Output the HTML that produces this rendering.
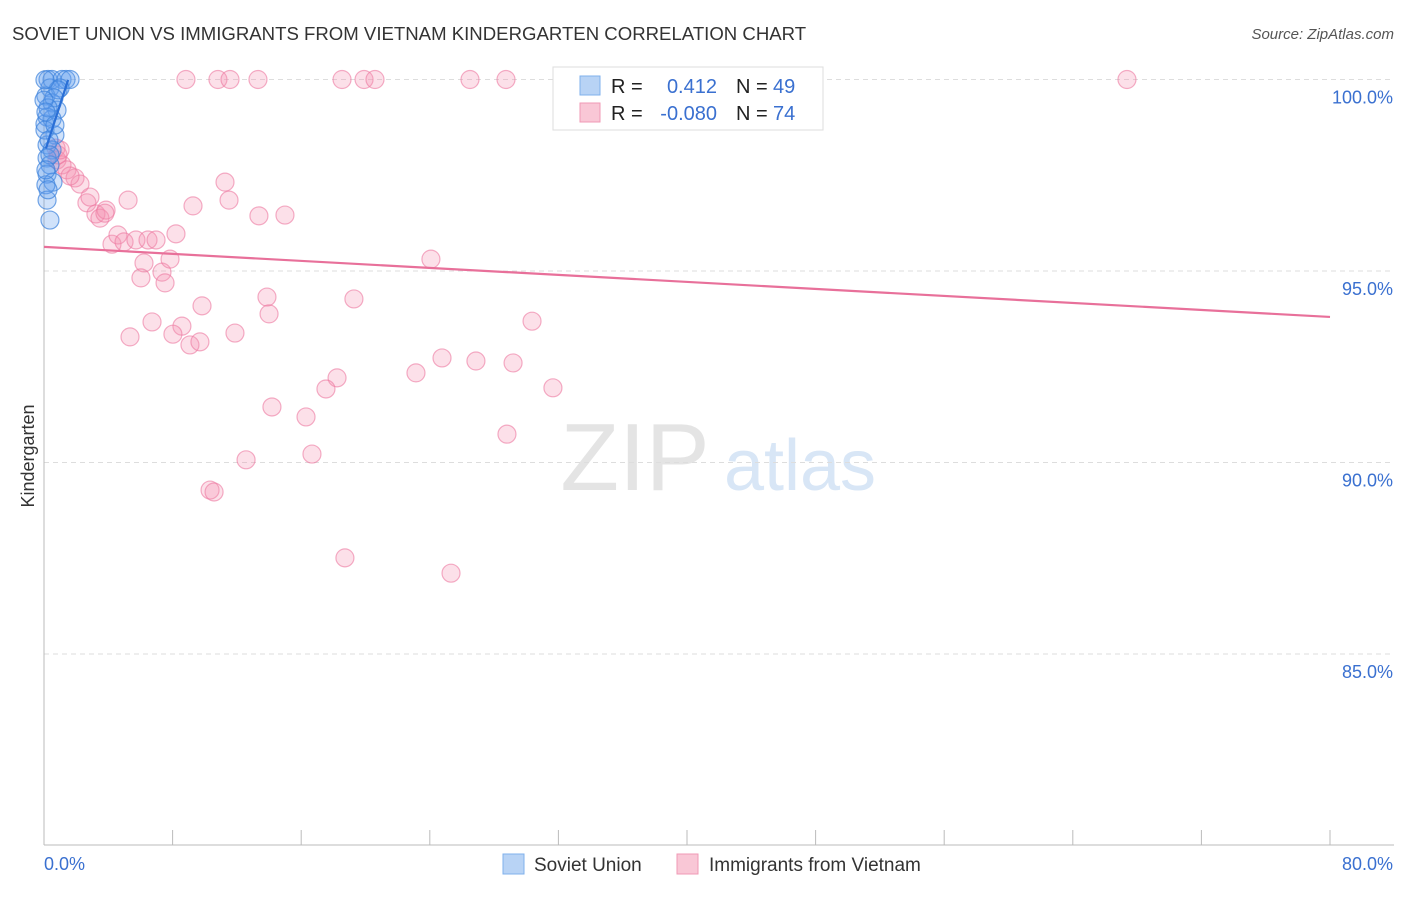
<!DOCTYPE html>
<html><head><meta charset="utf-8"><style>
body{margin:0;background:#fff;font-family:"Liberation Sans",sans-serif;}
svg text{font-family:"Liberation Sans",sans-serif;}
</style></head><body>
<svg id="chart" width="1406" height="892" xmlns="http://www.w3.org/2000/svg">
<text x="12" y="40" font-size="18.6" fill="#333">SOVIET UNION VS IMMIGRANTS FROM VIETNAM KINDERGARTEN CORRELATION CHART</text>
<text x="1394" y="39" font-size="15" fill="#555" font-style="italic" text-anchor="end">Source: ZipAtlas.com</text>
<text transform="translate(34,456) rotate(-90)" font-size="18" fill="#333" text-anchor="middle">Kindergarten</text>
<g>
<text x="635" y="490" font-size="96" fill="#e4e4e4" font-family="Liberation Serif,serif" text-anchor="middle">ZIP</text>
<text x="800" y="490" font-size="72" fill="#d8e6f6" text-anchor="middle">atlas</text>
</g>
<g id="grid"></g><g id="axes"></g><g id="marks"></g>
<g>
<rect x="553" y="67" width="270" height="63" fill="#fff" stroke="#ddd"/>
<rect x="580" y="76" width="20" height="19" fill="#b8d3f5" stroke="#7fb0ec"/>
<rect x="580" y="103" width="20" height="19" fill="#f9c7d6" stroke="#f09ab5"/>
<text x="611" y="93" font-size="20" fill="#222">R =</text>
<text x="717" y="93" font-size="20" fill="#3a70d0" text-anchor="end">0.412</text>
<text x="736" y="93" font-size="20" fill="#222">N =</text>
<text x="773" y="93" font-size="20" fill="#3a70d0">49</text>
<text x="611" y="120" font-size="20" fill="#222">R =</text>
<text x="717" y="120" font-size="20" fill="#3a70d0" text-anchor="end">-0.080</text>
<text x="736" y="120" font-size="20" fill="#222">N =</text>
<text x="773" y="120" font-size="20" fill="#3a70d0">74</text>
</g>
<g>
<rect x="503" y="854" width="21" height="20" fill="#b8d3f5" stroke="#7fb0ec"/>
<text x="534" y="871" font-size="19" fill="#333">Soviet Union</text>
<rect x="677" y="854" width="21" height="20" fill="#f9c7d6" stroke="#f09ab5"/>
<text x="709" y="871" font-size="19" fill="#333">Immigrants from Vietnam</text>
</g>
</svg>
<script>
const yTicks=[100,95,90,85];
const yTickLabels=["100.0%","95.0%","90.0%","85.0%"];
const xTicks=[0,8,16,24,32,40,48,56,64,72,80];
const xEndLabels=["0.0%","80.0%"];
const sovietX=[0.25,0.5,1.12,1.37,1.62,0.37,1.0,0.12,0.5,0.81,0.19,0.5,0.06,0.68,0.19,0.5,0.19,0.37,0.19,0.56,0.12,0.19,0.37,0.87,0.62,0.25,0.06,0.31,0.37,0.12,0.25,0,0.12,0.68,0.06];
const sovietY=[100,100,100,100,100,99.78,99.78,99.57,99.39,99.2,99.02,98.97,98.84,98.55,98.29,98.16,97.95,97.77,97.53,97.32,97.25,96.85,96.33,99.73,99.52,99.26,98.68,98.42,98.03,97.64,97.12,99.46,99.15,98.81,99.99];
const vietX=[8.83,10.82,11.57,13.31,18.54,19.91,20.59,26.5,28.74,43.3,67.37,0.75,0.81,1.12,1.43,1.93,2.24,0.87,2.67,2.86,3.23,3.48,3.86,5.23,4.23,4.6,4.98,5.72,6.47,6.97,8.21,9.27,11.26,11.51,13.37,14.99,6.22,7.34,7.53,6.03,7.84,24.07,9.83,6.72,8.58,8.02,5.35,9.08,9.7,11.88,13.87,14.0,19.28,30.36,24.76,26.87,29.18,23.14,18.23,17.54,31.66,14.18,16.3,28.8,16.67,12.57,10.33,10.58,18.72,25.32,1.0,1.62,3.79];
const vietY=[100,100,100,100,100,100,100,100,100,100,100,98.21,97.9,97.77,97.64,97.43,97.27,98.03,96.78,96.93,96.49,96.38,96.59,96.85,95.7,95.94,95.76,95.81,95.81,95.81,95.97,96.7,97.32,96.85,96.44,96.46,95.21,94.97,94.69,94.82,95.31,95.31,94.09,93.67,93.56,93.35,93.28,93.07,93.15,93.38,94.32,93.88,94.27,93.69,92.73,92.65,92.6,92.34,92.21,91.92,91.95,91.45,91.19,90.74,90.22,90.07,89.28,89.23,87.51,87.11,98.16,97.48,96.51];
const sovietTrendX=[0.12,1.5];
const sovietTrendY=[98.2,99.99];
const vietTrendX=[0,80];
const vietTrendY=[95.63,93.8];
const NS="http://www.w3.org/2000/svg";
const xs=v=>44+v/80*1286;
const ys=v=>79.5+(100-v)*38.3;
function mk(tag,attrs,parent){const e=document.createElementNS(NS,tag);for(const k in attrs)e.setAttribute(k,attrs[k]);parent.appendChild(e);return e;}
const grid=document.getElementById('grid'),axes=document.getElementById('axes'),marks=document.getElementById('marks');
yTicks.forEach((t,i)=>{
 const l=mk('line',{x1:44,x2:1394,y1:ys(t),y2:ys(t),stroke:'#ddd','stroke-dasharray':'5,4'},grid);
 
 
 const tx=mk('text',{x:1393,y:ys(t)+24,'font-size':18,fill:'#3a70d0','text-anchor':'end'},axes);
 tx.textContent=yTickLabels[i];
 
 
});
const xa=mk('line',{x1:44,x2:1394,y1:845,y2:845,stroke:'#bbb'},axes);


const ya=mk('line',{x1:44,x2:44,y1:70,y2:845,stroke:'#bbb'},axes);


xTicks.forEach(t=>{
 const l=mk('line',{x1:xs(t),x2:xs(t),y1:830,y2:845,stroke:'#bbb'},axes);
 
 
});
const xl0=mk('text',{x:44,y:870,'font-size':18,fill:'#3a70d0'},axes);xl0.textContent=xEndLabels[0];


const xl1=mk('text',{x:1393,y:870,'font-size':18,fill:'#3a70d0','text-anchor':'end'},axes);xl1.textContent=xEndLabels[1];


vietX.forEach((x,i)=>{
 const c=mk('circle',{cx:xs(x),cy:ys(vietY[i]),r:9,fill:'rgba(244,143,177,0.28)',stroke:'rgba(236,120,160,0.6)','stroke-width':1.2},marks);
 
 
});
sovietX.forEach((x,i)=>{
 const c=mk('circle',{cx:xs(x),cy:ys(sovietY[i]),r:9,fill:'rgba(100,160,240,0.3)',stroke:'rgba(60,130,220,0.7)','stroke-width':1.2},marks);
 
 
});
const vt=mk('line',{x1:xs(vietTrendX[0]),y1:ys(vietTrendY[0]),x2:xs(vietTrendX[1]),y2:ys(vietTrendY[1]),stroke:'#e8709a','stroke-width':2.2},marks);


const st=mk('line',{x1:xs(sovietTrendX[0]),y1:ys(sovietTrendY[0]),x2:xs(sovietTrendX[1]),y2:ys(sovietTrendY[1]),stroke:'#2a6fd6','stroke-width':2.2},marks);


</script>
</body></html>
